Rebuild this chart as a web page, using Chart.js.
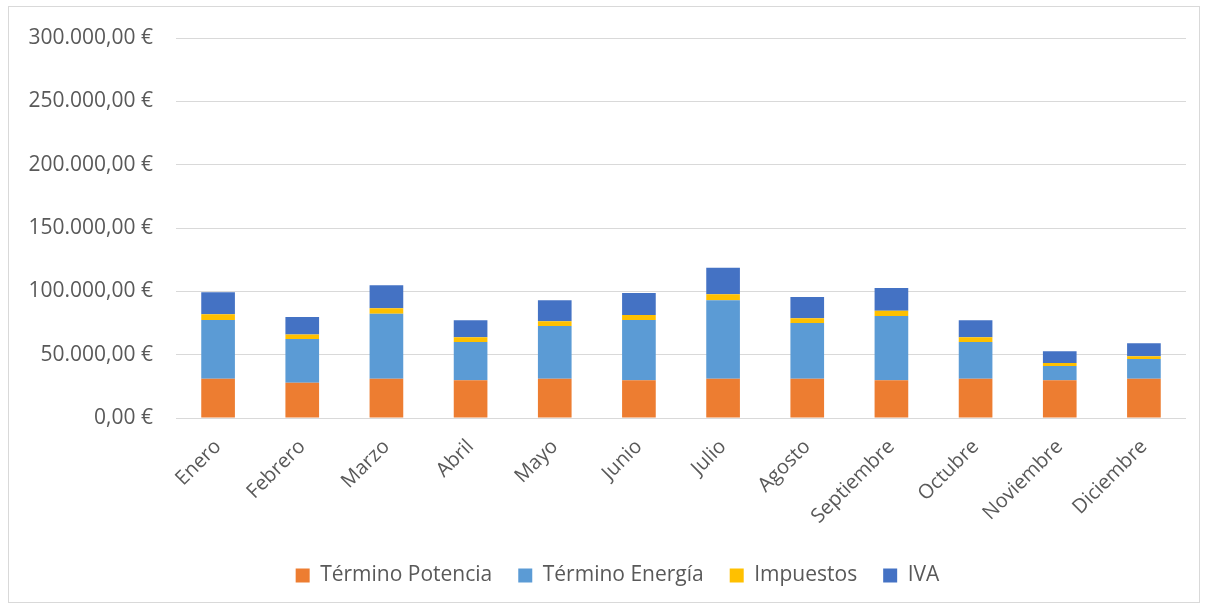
<!DOCTYPE html>
<html lang="es">
<head>
<meta charset="utf-8">
<title>Factura eléctrica mensual</title>
<script src="https://cdn.jsdelivr.net/npm/chart.js@4.4.1/dist/chart.umd.min.js"></script>
<style>
  html, body { margin: 0; padding: 0; background: #fff; overflow: hidden; }
  #marco {
    position: absolute;
    left: 8px;
    top: 6px;
    width: 1192px;
    height: 597px;
    border: 1px solid #d9d9d9;
    box-sizing: border-box;
  }
  #grafico { display: block; }
</style>
</head>
<body>
<div id="marco">
  <canvas id="grafico" width="1190" height="595"></canvas>
</div>
<script>
// ------------------ DATOS ------------------
const meses = ["Enero", "Febrero", "Marzo", "Abril", "Mayo", "Junio", "Julio",
  "Agosto", "Septiembre", "Octubre", "Noviembre", "Diciembre"];

const terminoPotencia = [31000, 27800, 31000, 29900, 31000, 29900, 31000, 31000, 29900, 31000, 29900, 31000];
const terminoEnergia  = [46400, 34600, 51400, 30100, 41700, 47500, 61900, 44000, 50600, 29000, 11200, 15500];
const impuestos       = [4500, 3500, 4200, 3700, 3700, 3900, 4700, 3700, 4250, 3700, 2400, 2300];
const iva             = [17300, 13800, 18300, 13400, 16500, 17300, 21000, 16800, 17800, 13400, 9200, 10200];

const ejeMin = 0;
const ejeMax = 300000;
const ejePaso = 50000;

// ------------------ FORMATO ------------------
// 250000 -> "250.000,00 €"
function formatoEuro(valor) {
  const partes = Math.round(valor).toString().replace(/\B(?=(\d{3})+(?!\d))/g, ".");
  return partes + ",00 €";
}

// la leyenda va un poco a la derecha del centro del lienzo
const desplazarLeyenda = {
  id: "desplazarLeyenda",
  afterLayout(chart) {
    chart.legend.left += 20;
    chart.legend.right += 20;
  },
};

// ------------------ GRAFICO ------------------
const gris = "#595959";
const fuente = "'Open Sans', 'Noto Sans', sans-serif";

const ctx = document.getElementById("grafico").getContext("2d");
new Chart(ctx, {
  type: "bar",
  data: {
    labels: meses,
    datasets: [
      { label: "Término Potencia", data: terminoPotencia, backgroundColor: "#ED7D31" },
      { label: "Término Energía", data: terminoEnergia, backgroundColor: "#5B9BD5" },
      { label: "Impuestos", data: impuestos, backgroundColor: "#FFC000" },
      { label: "IVA", data: iva, backgroundColor: "#4472C4" },
    ],
  },
  plugins: [desplazarLeyenda],
  options: {
    responsive: false,
    animation: false,
    layout: { padding: { top: 31, right: 13, bottom: 6, left: 0 } },
    datasets: {
      bar: { categoryPercentage: 0.4, barPercentage: 1, borderWidth: 0 },
    },
    scales: {
      x: {
        stacked: true,
        grid: { display: false },
        border: { display: false },
        ticks: {
          color: gris,
          font: { family: fuente, size: 20 },
          minRotation: 45,
          maxRotation: 45,
          padding: 9,
        },
        afterFit: (scale) => { scale.height = 121; },
      },
      y: {
        stacked: true,
        min: ejeMin,
        max: ejeMax,
        // marca invisible para separar las etiquetas de la cuadrícula
        grid: { color: "#d9d9d9", lineWidth: 1, drawTicks: true, tickLength: 19, tickColor: "rgba(0,0,0,0)" },
        border: { display: false },
        ticks: {
          stepSize: ejePaso,
          color: gris,
          font: { family: fuente, size: 21 },
          padding: 4,
          callback: (v) => formatoEuro(v),
        },
        afterFit: (scale) => { scale.width = 167; },
      },
    },
    plugins: {
      legend: {
        position: "bottom",
        labels: {
          color: gris,
          font: { family: fuente, size: 21 },
          boxWidth: 14,
          boxHeight: 14,
          padding: 26,
        },
      },
      tooltip: { enabled: false },
    },
  },
});
</script>
</body>
</html>
